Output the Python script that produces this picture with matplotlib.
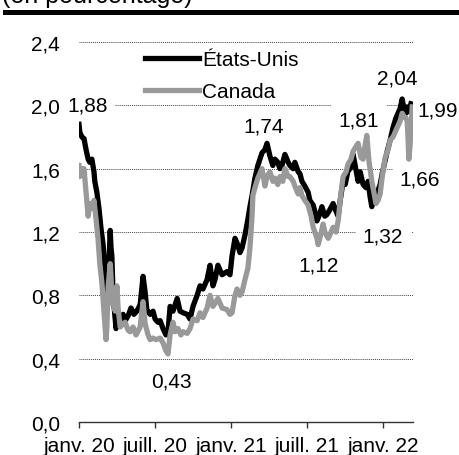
import matplotlib
matplotlib.use("Agg")
import matplotlib.pyplot as plt
import pandas as pd
from matplotlib.lines import Line2D

plt.rcParams['font.family'] = ['Liberation Sans', 'DejaVu Sans']

# ---------------- data ----------------
us_dates = ["2020-01-01","2020-01-03","2020-01-08","2020-01-13","2020-01-18","2020-01-23","2020-01-27",
            "2020-02-01","2020-02-06","2020-02-08","2020-02-13","2020-02-18","2020-02-23","2020-02-28",
            "2020-03-04","2020-03-08","2020-03-11","2020-03-16","2020-03-18","2020-03-20","2020-03-23",
            "2020-03-28","2020-03-30","2020-04-04","2020-04-09","2020-04-16","2020-04-21","2020-04-28",
            "2020-05-05","2020-05-12","2020-05-19","2020-05-27","2020-06-03","2020-06-08","2020-06-12",
            "2020-06-20","2020-06-27","2020-07-02","2020-07-09","2020-07-14","2020-07-21","2020-07-28",
            "2020-08-02","2020-08-07","2020-08-14","2020-08-24","2020-08-31","2020-09-07","2020-09-17",
            "2020-09-24","2020-10-01","2020-10-11","2020-10-18","2020-10-25","2020-11-04","2020-11-11",
            "2020-11-18","2020-11-23","2020-11-30","2020-12-10","2020-12-22","2020-12-29","2021-01-03",
            "2021-01-10","2021-01-15","2021-01-22","2021-01-27","2021-02-03","2021-02-10","2021-02-15",
            "2021-02-20","2021-02-27","2021-03-06","2021-03-16","2021-03-23","2021-03-28","2021-04-04",
            "2021-04-11","2021-04-16","2021-04-23","2021-04-28","2021-05-03","2021-05-10","2021-05-18",
            "2021-05-22","2021-05-30","2021-06-03","2021-06-11","2021-06-15","2021-06-20","2021-06-27",
            "2021-07-05","2021-07-09","2021-07-17","2021-07-21","2021-07-26","2021-07-31","2021-08-07",
            "2021-08-14","2021-08-19","2021-08-26","2021-09-03","2021-09-10","2021-09-15","2021-09-20",
            "2021-09-27","2021-10-02","2021-10-09","2021-10-14","2021-10-21","2021-10-26","2021-11-02",
            "2021-11-07","2021-11-14","2021-11-21","2021-11-26","2021-12-01","2021-12-05","2021-12-10",
            "2021-12-17","2021-12-25","2021-12-30","2022-01-06","2022-01-11","2022-01-18","2022-01-25",
            "2022-02-01","2022-02-06","2022-02-11","2022-02-16","2022-02-20","2022-02-25","2022-02-28",
            "2022-03-04","2022-03-09"]
us_values = [1.88,1.83,1.80,1.79,1.72,1.66,1.64,
             1.66,1.58,1.52,1.45,1.35,1.22,1.12,
             0.95,0.75,0.85,1.21,1.10,1.05,0.80,
             0.65,0.59,0.66,0.62,0.68,0.64,0.67,
             0.72,0.68,0.70,0.74,0.92,0.82,0.71,
             0.68,0.70,0.65,0.63,0.64,0.59,0.55,
             0.57,0.73,0.70,0.78,0.70,0.69,0.68,
             0.65,0.73,0.80,0.86,0.84,0.90,0.99,
             0.86,0.90,0.99,0.93,0.95,0.93,1.05,
             1.16,1.13,1.07,1.10,1.18,1.28,1.36,
             1.43,1.54,1.62,1.70,1.72,1.76,1.68,
             1.62,1.66,1.64,1.60,1.62,1.69,1.64,
             1.62,1.60,1.64,1.58,1.57,1.52,1.49,
             1.45,1.40,1.37,1.33,1.27,1.30,1.36,
             1.30,1.31,1.34,1.38,1.33,1.30,1.40,
             1.52,1.50,1.59,1.60,1.69,1.62,1.52,
             1.58,1.50,1.48,1.52,1.42,1.36,1.42,
             1.44,1.50,1.57,1.65,1.71,1.78,1.86,
             1.92,1.95,1.98,2.04,1.98,1.95,1.99,
             1.96,2.01]

ca_dates = ["2020-01-01","2020-01-03","2020-01-08","2020-01-13","2020-01-18","2020-01-23","2020-01-27",
            "2020-02-01","2020-02-06","2020-02-11","2020-02-16","2020-02-20","2020-02-25","2020-03-01",
            "2020-03-06","2020-03-08","2020-03-11","2020-03-16","2020-03-18","2020-03-20","2020-03-23",
            "2020-03-28","2020-04-01","2020-04-04","2020-04-09","2020-04-16","2020-04-21","2020-04-28",
            "2020-05-03","2020-05-10","2020-05-17","2020-05-27","2020-06-03","2020-06-08","2020-06-15",
            "2020-06-20","2020-06-27","2020-07-04","2020-07-14","2020-07-21","2020-07-28","2020-08-02",
            "2020-08-07","2020-08-14","2020-08-19","2020-08-26","2020-09-02","2020-09-07","2020-09-17",
            "2020-09-24","2020-10-01","2020-10-11","2020-10-18","2020-10-25","2020-11-04","2020-11-11",
            "2020-11-18","2020-11-23","2020-11-30","2020-12-10","2020-12-22","2020-12-29","2021-01-03",
            "2021-01-10","2021-01-15","2021-01-22","2021-01-27","2021-02-03","2021-02-10","2021-02-15",
            "2021-02-20","2021-02-22","2021-02-27","2021-03-06","2021-03-16","2021-03-23","2021-03-28",
            "2021-04-04","2021-04-11","2021-04-16","2021-04-23","2021-04-28","2021-05-05","2021-05-10",
            "2021-05-18","2021-05-22","2021-05-30","2021-06-03","2021-06-11","2021-06-15","2021-06-20",
            "2021-06-27","2021-07-05","2021-07-12","2021-07-17","2021-07-21","2021-07-26","2021-07-29",
            "2021-08-02","2021-08-10","2021-08-14","2021-08-22","2021-08-26","2021-09-03","2021-09-10",
            "2021-09-15","2021-09-22","2021-09-27","2021-10-04","2021-10-09","2021-10-16","2021-10-21",
            "2021-10-28","2021-11-02","2021-11-09","2021-11-14","2021-11-19","2021-11-23","2021-11-28",
            "2021-12-05","2021-12-10","2021-12-15","2021-12-20","2021-12-25","2021-12-30","2022-01-06",
            "2022-01-13","2022-01-18","2022-01-25","2022-02-04","2022-02-11","2022-02-16","2022-02-20",
            "2022-02-25","2022-02-28","2022-03-02","2022-03-04","2022-03-07","2022-03-12"]
ca_values = [1.62,1.55,1.60,1.60,1.45,1.30,1.38,
             1.35,1.40,1.28,1.15,1.00,0.88,0.70,
             0.52,0.60,0.85,1.00,0.92,0.75,0.78,
             0.70,0.86,0.72,0.60,0.62,0.63,0.58,
             0.57,0.60,0.55,0.60,0.76,0.62,0.55,
             0.52,0.53,0.52,0.53,0.50,0.45,0.43,
             0.55,0.63,0.57,0.59,0.55,0.57,0.56,
             0.59,0.65,0.64,0.69,0.66,0.72,0.80,
             0.73,0.75,0.78,0.72,0.71,0.68,0.69,
             0.80,0.84,0.80,0.82,0.90,0.97,1.10,
             1.30,1.43,1.48,1.54,1.60,1.49,1.55,
             1.58,1.52,1.54,1.50,1.55,1.52,1.60,
             1.55,1.55,1.52,1.49,1.44,1.48,1.43,
             1.40,1.37,1.30,1.23,1.20,1.16,1.12,
             1.16,1.25,1.20,1.16,1.18,1.23,1.20,
             1.27,1.45,1.55,1.58,1.63,1.66,1.71,
             1.74,1.76,1.67,1.66,1.75,1.81,1.65,
             1.52,1.45,1.38,1.40,1.44,1.55,1.67,
             1.72,1.78,1.80,1.86,1.90,1.95,1.93,
             1.92,1.90,1.80,1.66,1.75,1.99]

series_names = ["États-Unis", "Canada"]
y_ticks = [0.0, 0.4, 0.8, 1.2, 1.6, 2.0, 2.4]
y_ticklabels = ["0,0", "0,4", "0,8", "1,2", "1,6", "2,0", "2,4"]
x_ticks = ["2020-01-01", "2020-07-01", "2021-01-01", "2021-07-01", "2022-01-01"]
x_ticklabels = ["janv. 20", "juill. 20", "janv. 21", "juill. 21", "janv. 22"]
title = "(en pourcentage)"

ann_texts = ["1,88", "0,43", "1,74", "1,12", "1,81", "1,32", "2,04", "1,99", "1,66"]
ann_dates = ["2020-01-22", "2020-08-11", "2021-03-20", "2021-07-29", "2021-11-04",
             "2022-01-01", "2022-02-03", "2022-05-13", "2022-03-31"]
ann_values = [1.965, 0.227, 1.832, 0.954, 1.870, 1.137, 2.135, 1.933, 1.503]

# ---------------- figure ----------------
W, H = 459, 456
fig = plt.figure(figsize=(W / 100, H / 100), dpi=100)
ax = fig.add_axes([79 / W, (H - 423) / H, (413 - 79) / W, (423 - 43) / H])

fs = 15
ax.plot(pd.to_datetime(us_dates), us_values, color="black", lw=3.8,
        solid_joinstyle="round", label=series_names[0], zorder=3)
ax.plot(pd.to_datetime(ca_dates), ca_values, color="#999999", lw=3.8,
        solid_joinstyle="round", label=series_names[1], zorder=3.1)

ax.set_ylim(0, 2.4)
ax.set_xlim(pd.Timestamp("2020-01-01"), pd.Timestamp("2022-03-14"))
ax.set_yticks(y_ticks)
ax.set_yticklabels(y_ticklabels, fontsize=fs)
ax.set_xticks(pd.to_datetime(x_ticks))
ax.set_xticklabels(x_ticklabels, fontsize=fs)

ax.set_axisbelow(True)
ax.yaxis.grid(True, linestyle=(0, (1, 1)), lw=0.7, color="#444444")
for s in ["top", "right", "left"]:
    ax.spines[s].set_visible(False)
ax.spines["bottom"].set_color("#333333")
ax.spines["bottom"].set_linewidth(1.0)
ax.tick_params(axis="y", length=0, pad=13.5)
ax.tick_params(axis="x", length=4, width=1, color="#333333", pad=6)

for t, d, v in zip(ann_texts, ann_dates, ann_values):
    ax.text(pd.Timestamp(d), v, t, fontsize=fs, ha="center", va="baseline",
            clip_on=False, zorder=2,
            bbox=dict(boxstyle="square,pad=0.35", fc="white", ec="none"))

leg = ax.legend(loc="upper left", bbox_to_anchor=((145 - 79) / (413 - 79), (423 - 51) / (423 - 43)),
                frameon=False, fontsize=fs, handlelength=2.6, handletextpad=0.15,
                labelspacing=0.62, borderpad=0.0, borderaxespad=0.0)

fig.text(2 / W, 1 - 3.5 / H, title, fontsize=18, ha="left", va="baseline")
fig.add_artist(Line2D([5 / W, 1.0], [1 - 12.5 / H, 1 - 12.5 / H],
                      transform=fig.transFigure, color="black", lw=3.6))

fig.savefig("out.png", dpi=100)
